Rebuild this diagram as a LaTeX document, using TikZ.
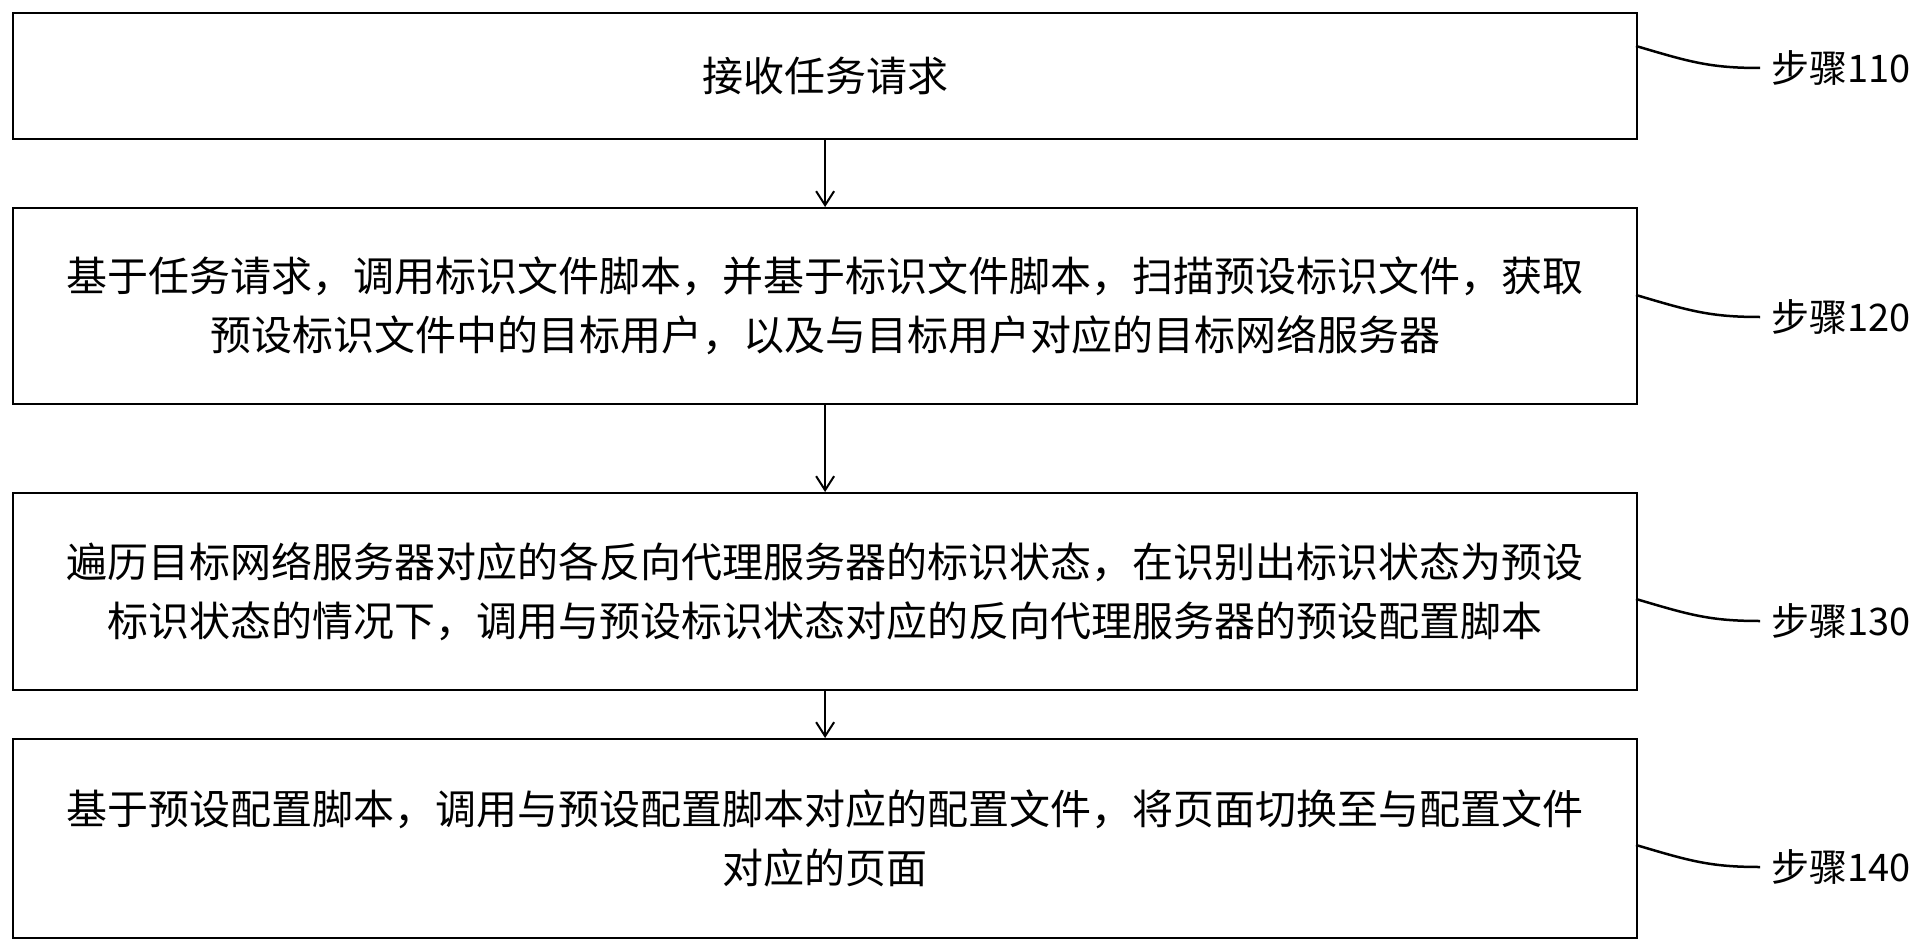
\documentclass[tikz,border=0pt]{standalone}
\usepackage{fontspec}
\newfontfamily\cjk{Noto Sans CJK SC}
\usetikzlibrary{arrows.meta}
\begin{document}
\begin{tikzpicture}[x=1pt,y=-1pt,
  stepbox/.style={draw,line width=2.2pt,minimum width=1624pt,anchor=north west,inner sep=0pt,align=center,font=\cjk\fontsize{41}{59}\selectfont},
  lbl/.style={anchor=west,font=\cjk\fontsize{38}{40}\selectfont},
  lead/.style={line width=2.5pt},
  arr/.style={line width=2pt,-{Straight Barb[length=14pt,width=18pt]}}]
\useasboundingbox (0,0) rectangle (1928,950);
\node[stepbox,minimum height=126pt] (b1) at (12,12) {接收任务请求};
\node[stepbox,minimum height=196pt] (b2) at (12,207) {基于任务请求，调用标识文件脚本，并基于标识文件脚本，扫描预设标识文件，获取\\预设标识文件中的目标用户，以及与目标用户对应的目标网络服务器};
\node[stepbox,minimum height=197pt] (b3) at (12,492) {遍历目标网络服务器对应的各反向代理服务器的标识状态，在识别出标识状态为预设\\标识状态的情况下，调用与预设标识状态对应的反向代理服务器的预设配置脚本};
\node[stepbox,minimum height=199pt] (b4) at (12,738) {基于预设配置脚本，调用与预设配置脚本对应的配置文件，将页面切换至与配置文件\\对应的页面};
\draw[arr] (b1.south) -- (b2.north);
\draw[arr] (b2.south) -- (b3.north);
\draw[arr] (b3.south) -- (b4.north);
\foreach \b/\y/\t in {b1/68/110,b2/317/120,b3/621/130,b4/867/140}{
  \node[lbl] (l\b) at (1768,\y) {步骤\t};
  \draw[lead] (1636,\y-22) .. controls (1690,\y-6) and (1710,\y) .. (1760,\y);
}
\end{tikzpicture}
\end{document}
